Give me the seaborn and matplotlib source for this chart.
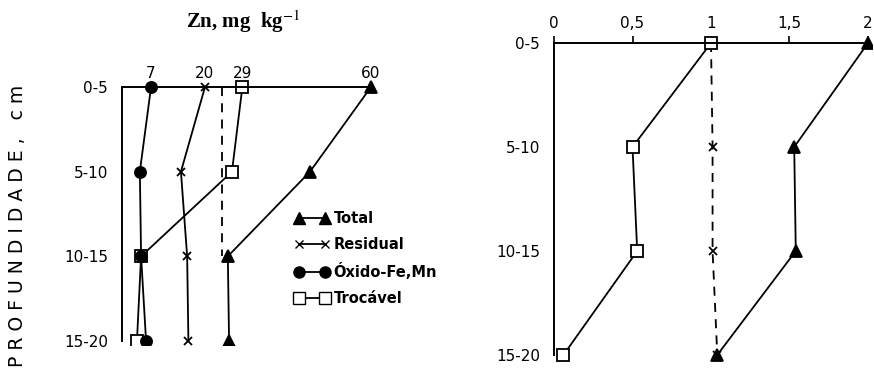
import matplotlib
matplotlib.use('Agg')
import matplotlib.pyplot as plt
from matplotlib.lines import Line2D
import seaborn as sns

# depth layers (cm)
depths = ['0-5', '5-10', '10-15', '15-20']
depth_pos = [0, 1, 2, 3]

# left panel: Zn, mg kg-1
total_mg = [60, 45.3, 25.5, 25.8]
residual_mg = [20, 14.2, 15.7, 16.0]
oxido_mg = [7, 4.3, 4.6, 5.8]
trocavel_mg = [29, 26.5, 4.6, 3.6]
ref_mg = [24, 24, 24]
top_ticks_mg = [7, 20, 29, 60]

# right panel: relative values
total_rel = [2.0, 1.53, 1.54, 1.04]
residual_rel = [1.0, 1.01, 1.01, 1.04]
trocavel_rel = [1.0, 0.50, 0.53, 0.06]
top_ticks_rel = [0, 0.5, 1, 1.5, 2]
top_labels_rel = ['0', '0,5', '1', '1,5', '2']

sns.set_theme(style='white')
plt.rcParams['font.family'] = ['DejaVu Sans']
plt.rcParams['mathtext.fontset'] = 'stix'
plt.rcParams['text.color'] = 'black'

W, H = 874, 376
fig = plt.figure(figsize=(W / 100, H / 100), dpi=100)


def px_axes(x0, x1, y0, y1):
    return fig.add_axes([x0 / W, 1 - y1 / H, (x1 - x0) / W, (y1 - y0) / H])


def style_axes(ax, xmax, ticks, labels, tick_len):
    ax.spines['right'].set_visible(False)
    ax.spines['bottom'].set_visible(False)
    for s in ['top', 'left']:
        ax.spines[s].set_color('black')
        ax.spines[s].set_linewidth(1.4)
    ax.spines['top'].set_position(('data', 0))
    ax.spines['top'].set_bounds(0, xmax)
    ax.spines['left'].set_bounds(0, 3)
    ax.xaxis.set_ticks_position('top')
    ax.set_xticks(ticks)
    ax.set_xticklabels(labels)
    ax.tick_params(axis='x', direction='out', length=tick_len, width=1.2,
                   pad=4, labelsize=11, colors='black')
    ax.set_yticks(depth_pos)
    ax.set_yticklabels(depths)
    ax.tick_params(axis='y', direction='out', length=9, width=1.2, pad=1,
                   labelsize=11, colors='black')
    ax.set_xlabel('')
    ax.set_ylabel('')
    ax.patch.set_alpha(0)


def draw(ax, x, y, marker, fc, ls='-', ms=8):
    sns.lineplot(x=x, y=y, sort=False, estimator=None, ax=ax, color='black',
                 marker=marker, markersize=ms, markerfacecolor=fc,
                 markeredgecolor='black', markeredgewidth=1.3, linewidth=1.3,
                 linestyle=ls)


# ---- left panel
ax1 = px_axes(122, 380, 80, 345)
draw(ax1, ref_mg, depth_pos[:3], None, 'none', ls=(0, (5, 4)))
draw(ax1, trocavel_mg, depth_pos, 's', 'white')
draw(ax1, oxido_mg, depth_pos, 'o', 'black')
draw(ax1, residual_mg, depth_pos, 'x', 'black', ms=6)
draw(ax1, total_mg, depth_pos, '^', 'black', ms=9)
ax1.set_xlim(0, 258 / 4.15)
ax1.set_ylim(3 + 4 / 84.7, -7 / 84.7)
style_axes(ax1, 60, top_ticks_mg, [str(t) for t in top_ticks_mg], 0)

handles = [
    Line2D([], [], color='black', marker='^', mfc='black', ms=9, lw=1.3),
    Line2D([], [], color='black', marker='x', ms=6, lw=1.3),
    Line2D([], [], color='black', marker='o', mfc='black', ms=8, lw=1.3),
    Line2D([], [], color='black', marker='s', mfc='white', ms=8, lw=1.3),
]
ax1.legend(handles, ['Total', 'Residual', 'Óxido-Fe,Mn', 'Trocável'],
           loc='upper left', bbox_to_anchor=(281 / W, 1 - 198 / H),
           bbox_transform=fig.transFigure, frameon=False, numpoints=2,
           handlelength=2.4, handletextpad=0.3, labelspacing=0.75,
           labelcolor='black', prop={'size': 10.5, 'weight': 'bold'})

# ---- right panel
ax2 = px_axes(554, 872, 35, 362)
draw(ax2, residual_rel, depth_pos, 'x', 'black', ls=(0, (5, 4)), ms=6)
draw(ax2, trocavel_rel, depth_pos, 's', 'white')
draw(ax2, total_rel, depth_pos, '^', 'black', ms=9)
ax2.set_xlim(0, 318 / 157)
ax2.set_ylim(3 + 7 / 104, -8 / 104)
style_axes(ax2, 2, top_ticks_rel, top_labels_rel, 5)

# titles
fig.text(243 / W, 1 - 22 / H, r'Zn, mg  kg$^{-1}$', ha='center', va='center',
         fontfamily='Liberation Serif', fontweight='bold', fontsize=15,
         color='black')
fig.text(18 / W, 1 - 226 / H, 'P R O F U N D I D A D E ,   c m', rotation=90,
         ha='center', va='center', fontsize=13.5, color='black')

fig.savefig('out.png', dpi=100, facecolor='white')
